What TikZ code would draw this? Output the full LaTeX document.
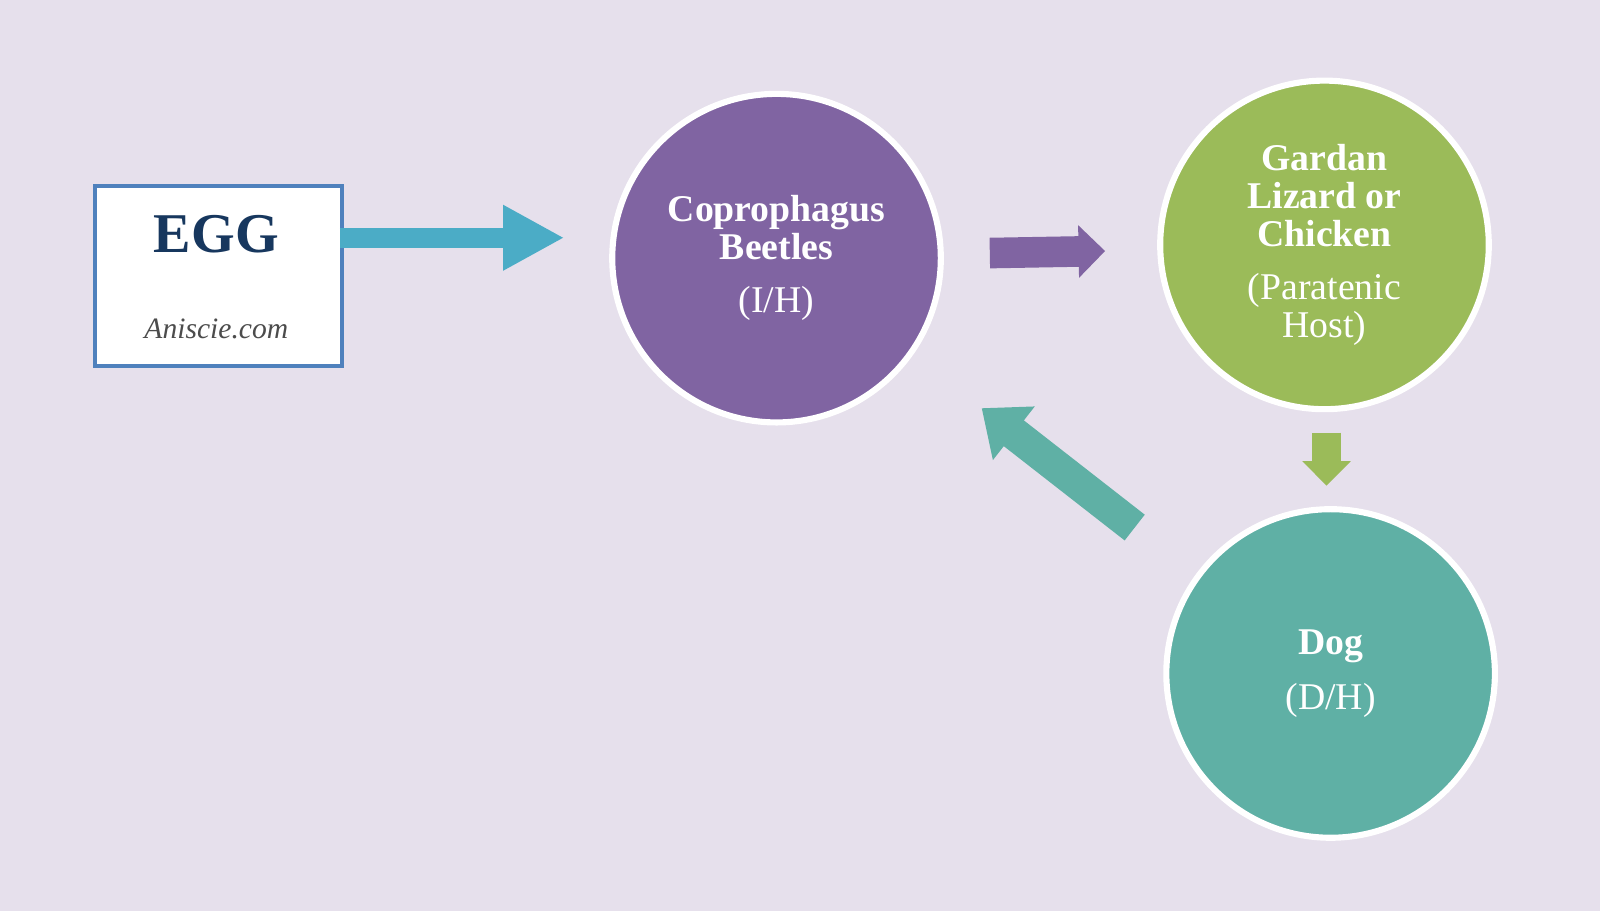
\documentclass[tikz,border=0pt]{standalone}
\usepackage{fontspec}
\setmainfont{Liberation Serif}
\usetikzlibrary{arrows.meta}
\definecolor{bgcol}{HTML}{E6E0EC}
\definecolor{boxblue}{HTML}{4F81BD}
\definecolor{navy}{HTML}{17375E}
\definecolor{cyanarr}{HTML}{4BACC6}
\definecolor{purp}{HTML}{8064A2}
\definecolor{grn}{HTML}{9BBB59}
\definecolor{teal}{HTML}{5FB0A5}
\tikzset{
  host/.style={shape=circle, draw=white, line width=6pt, minimum size=322pt,
    inner sep=0pt, align=center, text=white, font=\fontsize{37}{37}\selectfont},
  blockarrow/.style={line width=#1}
}
\begin{document}
\begin{tikzpicture}[x=1pt, y=-1pt]
\fill[bgcol] (0,0) rectangle (1568,893);
\useasboundingbox (0,0) rectangle (1568,893);
% egg box
\node [shape=rectangle, draw=boxblue, fill=white, line width=4pt,
  minimum width=242pt, minimum height=177pt, anchor=north west] (E) at (91,180) {};
\node [text=navy, font=\fontsize{55}{56}\selectfont\bfseries] (EGG) at (212,230) {EGG};
\node [text=black!70, font=\fontsize{29}{32}\selectfont\itshape] (W) at (212,322) {Aniscie.com};
% hosts
\node [host, fill=purp] (B) at (761,253) {\textbf{Coprophagus}\\\textbf{Beetles}\\[15pt](I/H)};
\node [host, fill=grn] (L) at (1298,240) {\textbf{Gardan}\\\textbf{Lizard or}\\\textbf{Chicken}\\[15pt](Paratenic\\Host)};
\node [host, fill=teal] (D) at (1304,660) {\textbf{Dog}\\[17pt](D/H)};
% arrow ends
\coordinate (a1) at (333,233);
\coordinate (a2) at (553,233);
\coordinate (b1) at (970,248);
\coordinate (b2) at (1083,246);
\coordinate (c1) at (1300,424);
\coordinate (c2) at (1300,476);
\coordinate (d1) at (1112,517);
\coordinate (d2) at (962,400);
% arrows
\draw[cyanarr, line width=20pt, -{Triangle[length=60pt, width=60pt]}] (a1) -- (a2);
\draw[purp, line width=30pt, -{Triangle[length=26pt, width=50pt]}] (b1) -- (b2);
\draw[grn, line width=28pt, -{Triangle[length=24pt, width=46pt]}] (c1) -- (c2);
\draw[teal, line width=32pt, -{Triangle[length=40pt, width=64pt]}] (d1) -- (d2);
\end{tikzpicture}
\end{document}
